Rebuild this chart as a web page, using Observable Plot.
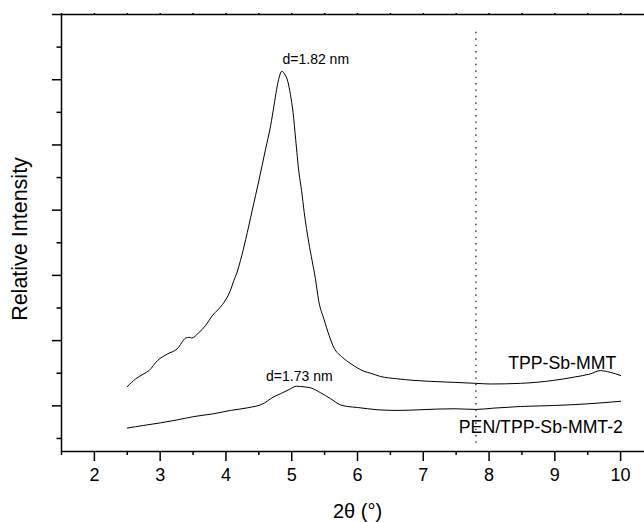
<!DOCTYPE html>
<html><head><meta charset="utf-8">
<script src="https://cdn.jsdelivr.net/npm/d3@7"></script>
<script src="https://cdn.jsdelivr.net/npm/@observablehq/plot@0.6"></script>
<style>
html,body{margin:0;padding:0;background:#fff;overflow:hidden}
#wrap{width:644px;height:522px;overflow:hidden}
#wrap svg{max-width:none !important}
</style></head><body><div id="wrap"></div>
<script>
// 2θ (degrees) and relative intensity (arbitrary units)
const tppX = [2.50,2.63,2.75,2.83,2.96,3.11,3.26,3.39,3.44,3.48,3.59,3.69,3.79,3.89,3.97,4.07,4.12,4.17,4.22,4.30,4.40,4.50,4.60,4.68,4.73,4.77,4.81,4.85,4.89,4.94,4.98,5.02,5.06,5.11,5.15,5.19,5.26,5.31,5.36,5.41,5.49,5.57,5.64,5.77,5.90,6.00,6.10,6.20,6.35,6.60,6.86,7.11,7.47,7.80,8.02,8.48,8.98,9.29,9.54,9.69,9.84,10.00];
const tppY = [1.59,1.83,1.98,2.08,2.39,2.59,2.75,3.08,3.10,3.08,3.25,3.46,3.76,3.97,4.17,4.55,4.84,5.10,5.45,6.10,7.00,7.90,8.85,9.60,10.20,10.70,11.08,11.26,11.18,10.95,10.55,10.00,9.17,8.15,7.60,6.93,6.00,5.45,4.90,4.22,3.66,3.15,2.79,2.49,2.29,2.16,2.06,2.00,1.90,1.83,1.78,1.75,1.72,1.69,1.67,1.69,1.78,1.88,1.98,2.08,2.03,1.93];
const penX = [2.50,2.75,3.01,3.26,3.51,3.82,4.07,4.33,4.58,4.68,4.88,4.96,5.07,5.20,5.29,5.44,5.59,5.74,5.85,6.00,6.30,6.60,6.96,7.20,7.47,7.80,8.07,8.48,8.98,9.49,10.00];
const penY = [0.32,0.40,0.48,0.57,0.67,0.76,0.86,0.94,1.08,1.22,1.42,1.50,1.60,1.58,1.55,1.40,1.22,1.03,0.98,0.95,0.88,0.86,0.88,0.90,0.91,0.89,0.93,0.98,1.01,1.06,1.14];

const xDomain = [1.5, 10.5];
const yDomain = [-0.4, 13];
const xTicksMajor = [2,3,4,5,6,7,8,9,10];
const xTicksMinor = [1.5,2.5,3.5,4.5,5.5,6.5,7.5,8.5,9.5,10.5];
const xTicksTop = [1.5,2,2.5,3,3.5,4,4.5,5,5.5,6,6.5,7,7.5,8,8.5,9,9.5,10,10.5];
const yTicksMajor = [1,3,5,7,9,11,13];
const yTicksMinor = [0,2,4,6,8,10,12];

const refLineX = [7.8];
const refLineY = [-0.15, 12.55];

const annText = ["d=1.82 nm", "d=1.73 nm"];
const annX = [4.86, 4.61];
const annY = [11.48, 1.75];

const seriesName = ["TPP-Sb-MMT", "PEN/TPP-Sb-MMT-2"];
const seriesLabelX = [8.29, 7.54];
const seriesLabelY = [2.14, 0.16];

const xTitle = "2θ (°)";
const yTitle = "Relative Intensity";

const tpp = tppX.map((x, i) => ({x, y: tppY[i]}));
const pen = penX.map((x, i) => ({x, y: penY[i]}));
const ann = annText.map((t, i) => ({t, x: annX[i], y: annY[i]}));
const lab = seriesName.map((t, i) => ({t, x: seriesLabelX[i], y: seriesLabelY[i]}));
const blank = () => "";

const chart = Plot.plot({
  width: 653,
  height: 522,
  marginLeft: 61,
  marginRight: 0,
  marginTop: 14,
  marginBottom: 71,
  style: {fontFamily: "'Liberation Sans', Arial, sans-serif", color: "black", background: "white", overflow: "visible", maxWidth: "none"},
  x: {domain: xDomain},
  y: {domain: yDomain},
  marks: [
    Plot.ruleX(refLineX, {y1: refLineY[0], y2: refLineY[1], stroke: "#222", strokeWidth: 1.4, strokeDasharray: "1.4,5"}),
    Plot.line(tpp, {x: "x", y: "y", stroke: "black", strokeWidth: 1, curve: "monotone-x"}),
    Plot.line(pen, {x: "x", y: "y", stroke: "black", strokeWidth: 1, curve: "monotone-x"}),
    Plot.axisX(xTicksMajor, {anchor: "bottom", tickSize: 10, tickPadding: 7, fontSize: 18, strokeWidth: 1.5, label: null}),
    Plot.axisX(xTicksMinor, {anchor: "bottom", tickSize: 4, tickFormat: blank, strokeWidth: 1.5, label: null}),
    Plot.axisX(xTicksTop, {anchor: "top", tickSize: 2, tickFormat: blank, strokeWidth: 1.5, label: null}),
    Plot.axisY(yTicksMajor, {anchor: "left", tickSize: 9, tickFormat: blank, strokeWidth: 1.5, label: null}),
    Plot.axisY(yTicksMinor, {anchor: "left", tickSize: 4.5, tickFormat: blank, strokeWidth: 1.5, label: null}),
    Plot.ruleX([xDomain[0]], {strokeWidth: 1.5}),
    Plot.ruleY([yDomain[0]], {strokeWidth: 1.5}),
    Plot.ruleY([yDomain[1]], {strokeWidth: 1.5}),
    Plot.text(ann, {x: "x", y: "y", text: "t", textAnchor: "start", lineAnchor: "bottom", fontSize: 14, fill: "black"}),
    Plot.text(lab, {x: "x", y: "y", text: "t", textAnchor: "start", lineAnchor: "bottom", fontSize: 17.7, fill: "black"}),
    Plot.text([xTitle], {frameAnchor: "bottom", textAnchor: "middle", lineAnchor: "bottom", dy: 66.7, fontSize: 20, fill: "black"}),
    Plot.text([yTitle], {frameAnchor: "left", textAnchor: "middle", rotate: -90, lineAnchor: "bottom", dx: -34.3, dy: 6, fontSize: 21.5, fill: "black"})
  ]
});
document.getElementById("wrap").appendChild(chart);
</script>
</body></html>
